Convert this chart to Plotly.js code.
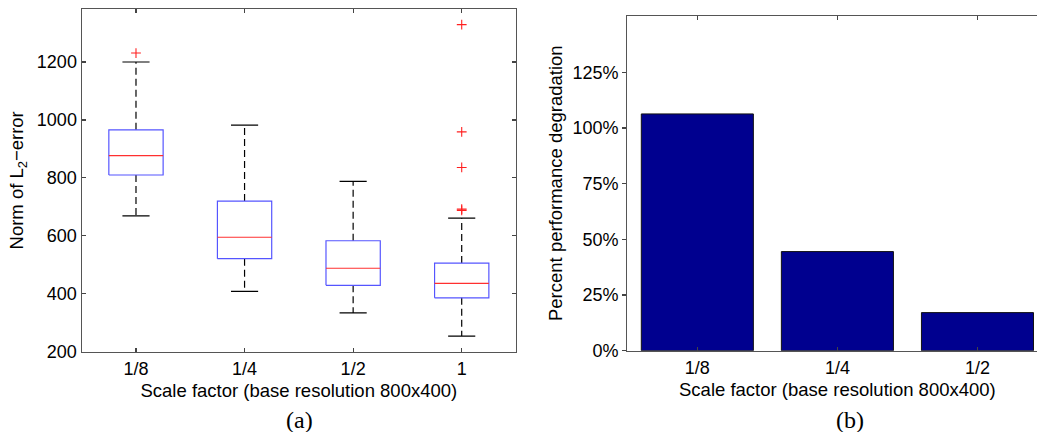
<!DOCTYPE html>
<html>
<head>
<meta charset="utf-8">
<script src="https://cdn.plot.ly/plotly-3.0.1.min.js"></script>
<style>
  html, body { margin: 0; padding: 0; overflow: hidden; background: #fff; }
  #chart { width: 1050px; height: 432px; }
</style>
</head>
<body>
<div id="chart"></div>
<script>
// ---- Data ----
const scaleCats = ['1/8', '1/4', '1/2', '1'];
const boxQ1 = [810, 521, 429, 386];
const boxMedian = [877, 595, 488, 436];
const boxQ3 = [966, 720, 583, 506];
const whiskerLow = [669, 408, 334, 254];
const whiskerHigh = [1200, 982, 788, 661];
const outlierCat = ['1/8', '1', '1', '1', '1', '1'];
const outlierVal = [1231, 1329, 959, 836, 692, 688];

const barCats = ['1/8', '1/4', '1/2'];
const degradation = [106.3, 44.5, 17.1];
const pctTicks = [0, 25, 50, 75, 100, 125];
const pctLabels = ['0%', '25%', '50%', '75%', '100%', '125%'];

// ---- helpers ----
const pos = scaleCats.map((_, i) => i + 1);
const posOf = c => scaleCats.indexOf(c) + 1;

function segs(pairs) {
  const xs = [], ys = [];
  pairs.forEach(p => { xs.push(p[0], p[1], null); ys.push(p[2], p[3], null); });
  return { x: xs, y: ys };
}

const whisk = segs(pos.flatMap((p, i) => [
  [p, p, boxQ3[i], whiskerHigh[i]],
  [p, p, boxQ1[i], whiskerLow[i]]
]));
const caps = segs(pos.flatMap((p, i) => [
  [p - 0.125, p + 0.125, whiskerHigh[i], whiskerHigh[i]],
  [p - 0.125, p + 0.125, whiskerLow[i], whiskerLow[i]]
]));
const meds = segs(pos.map((p, i) => [p - 0.25, p + 0.25, boxMedian[i], boxMedian[i]]));
const rectX = [], rectY = [];
pos.forEach((p, i) => {
  rectX.push(p - 0.25, p + 0.25, p + 0.25, p - 0.25, p - 0.25, null);
  rectY.push(boxQ1[i], boxQ1[i], boxQ3[i], boxQ3[i], boxQ1[i], null);
});

const FONT = '"Liberation Sans", Arial, Helvetica, sans-serif';

const traces = [
  {
    type: 'scatter', mode: 'lines', x: whisk.x, y: whisk.y,
    line: { color: '#000', width: 1.2, dash: '7px,4px' },
    xaxis: 'x', yaxis: 'y', hoverinfo: 'skip', showlegend: false
  },
  {
    type: 'scatter', mode: 'lines', x: caps.x, y: caps.y,
    line: { color: '#000', width: 1.2 },
    xaxis: 'x', yaxis: 'y', hoverinfo: 'skip', showlegend: false
  },
  {
    type: 'scatter', mode: 'lines', x: rectX, y: rectY,
    line: { color: '#5555ff', width: 1.2 },
    xaxis: 'x', yaxis: 'y', hoverinfo: 'skip', showlegend: false
  },
  {
    type: 'scatter', mode: 'lines', x: meds.x, y: meds.y,
    line: { color: '#ff3030', width: 1.2 },
    xaxis: 'x', yaxis: 'y', hoverinfo: 'skip', showlegend: false
  },
  {
    type: 'scatter', mode: 'markers', x: outlierCat.map(posOf), y: outlierVal,
    marker: { symbol: 'cross-thin', size: 7, line: { color: '#ff2020', width: 1.1 } },
    xaxis: 'x', yaxis: 'y', showlegend: false
  },
  {
    type: 'bar', x: barCats.map((_, i) => i + 1), y: degradation, width: 0.8,
    marker: { color: '#00008f', line: { color: '#111', width: 1 } },
    xaxis: 'x2', yaxis: 'y2', showlegend: false
  }
];

const W = 1050, H = 432;
const px = v => v / W, py = v => 1 - v / H;

const axCommon = {
  showgrid: false, zeroline: false, showline: true, linecolor: '#555', linewidth: 1.2,
  tickcolor: '#444', ticklen: 4, tickwidth: 1.2,
  tickfont: { family: FONT, size: 18, color: '#000' }
};
const TFONT = { family: FONT, size: 18.5, color: '#000' };

const layout = {
  width: W, height: H,
  margin: { l: 0, r: 0, t: 0, b: 0 },
  paper_bgcolor: '#fff', plot_bgcolor: '#fff',
  font: { family: FONT, color: '#000' },
  showlegend: false,
  xaxis: Object.assign({}, axCommon, {
    domain: [px(81.7), px(516)], range: [0.5, 4.5],
    tickvals: pos, ticktext: scaleCats, ticks: 'inside', mirror: 'ticks',
    title: { text: 'Scale factor (base resolution 800x400)', font: TFONT, standoff: 6 },
    anchor: 'y'
  }),
  yaxis: Object.assign({}, axCommon, {
    domain: [py(351.7), py(9)], range: [200, 1383],
    tickvals: [200, 400, 600, 800, 1000, 1200], ticks: 'inside', mirror: 'ticks',
    title: { text: 'Norm of L<sub>2</sub>−error', font: TFONT, standoff: 8 },
    anchor: 'x'
  }),
  xaxis2: Object.assign({}, axCommon, {
    domain: [px(627.3), px(1047.5)], range: [0.5, 3.5],
    tickvals: barCats.map((_, i) => i + 1), ticktext: barCats, ticks: 'inside', mirror: 'ticks',
    title: { text: 'Scale factor (base resolution 800x400)', font: TFONT, standoff: 6 },
    anchor: 'y2'
  }),
  yaxis2: Object.assign({}, axCommon, {
    domain: [py(350.7), py(15.7)], range: [0, 150.4],
    tickvals: pctTicks, ticktext: pctLabels, ticks: 'outside', mirror: true,
    title: { text: 'Percent performance degradation', font: TFONT, standoff: 5 },
    anchor: 'x2'
  }),
  annotations: [
    { text: '(a)', xref: 'paper', yref: 'paper', x: px(299), y: py(420), xanchor: 'center', yanchor: 'middle',
      showarrow: false, font: { family: '"Liberation Serif", "Times New Roman", serif', size: 24, color: '#000' } },
    { text: '(b)', xref: 'paper', yref: 'paper', x: px(850), y: py(420), xanchor: 'center', yanchor: 'middle',
      showarrow: false, font: { family: '"Liberation Serif", "Times New Roman", serif', size: 24, color: '#000' } }
  ]
};

Plotly.newPlot('chart', traces, layout, { staticPlot: true, displayModeBar: false });
</script>
</body>
</html>
